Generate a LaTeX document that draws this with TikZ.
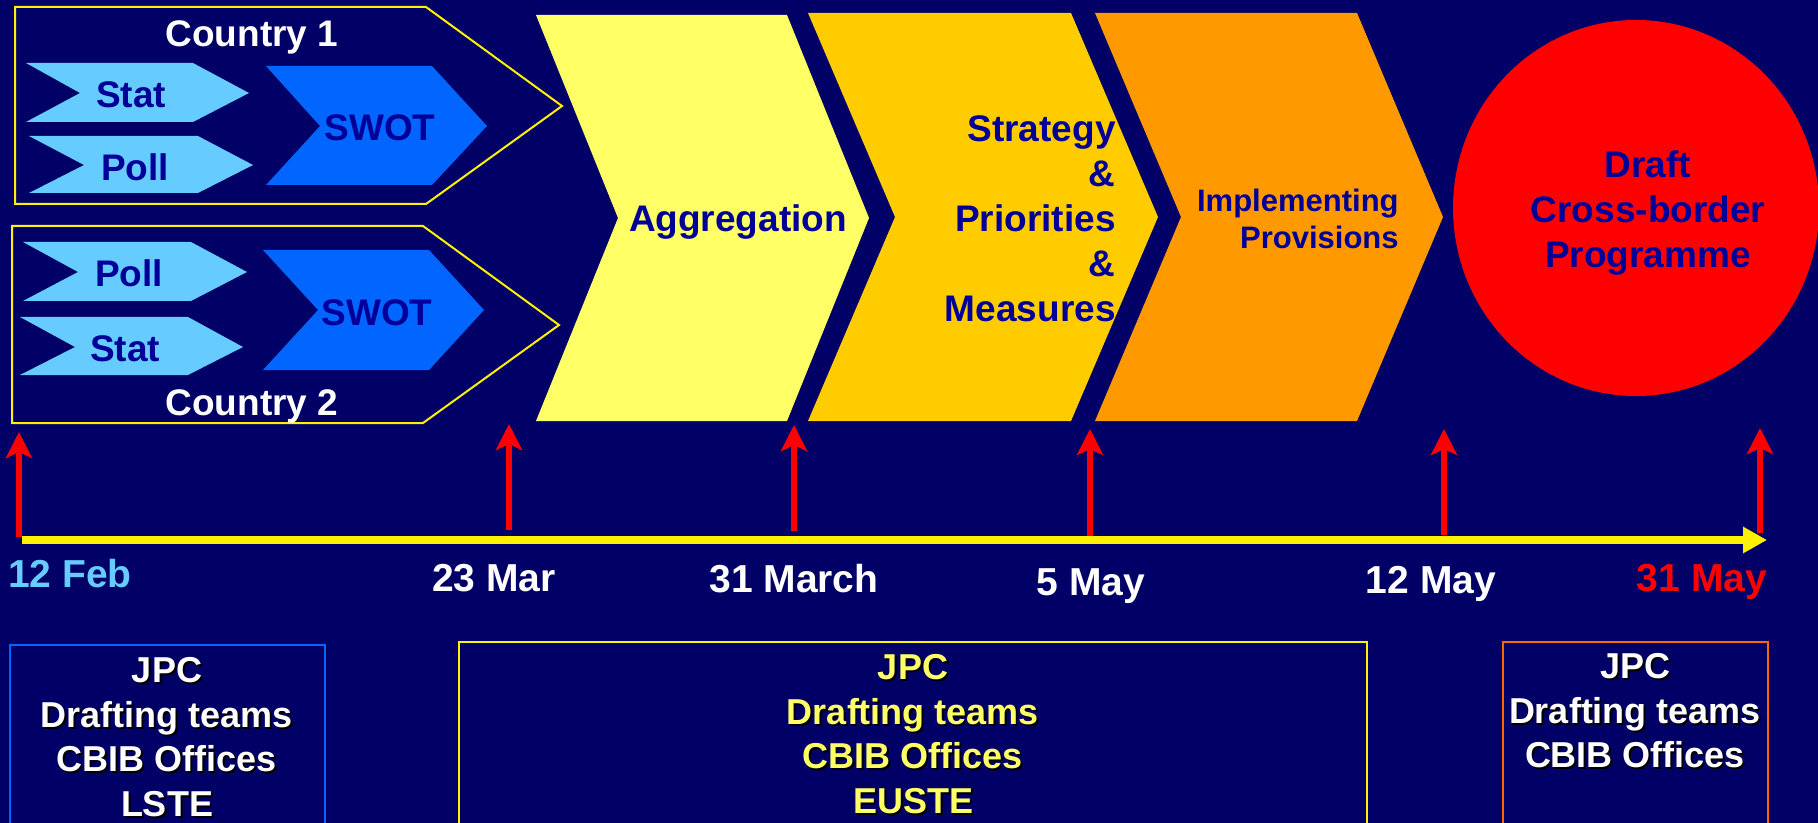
\documentclass[tikz,border=0pt]{standalone}
\usepackage{fontspec}
\setmainfont{Liberation Sans}
\usepackage{xcolor}
\usetikzlibrary{arrows.meta}

\definecolor{bgnavy}{HTML}{000066}
\definecolor{txtblue}{HTML}{000099}
\definecolor{skyblue}{HTML}{66CCFF}
\definecolor{swotblue}{HTML}{0066FF}
\definecolor{paleyellow}{HTML}{FFFF66}
\definecolor{gold}{HTML}{FFCC00}
\definecolor{amber}{HTML}{FF9900}
\definecolor{boxorange}{HTML}{FF6600}

% text with a drop shadow
\newcommand{\shtext}[1]{\rlap{\kern1pt\raisebox{-1pt}{\color{black}#1}}#1}

\begin{document}
\begin{tikzpicture}[x=0.5pt, y=-0.5pt,
  lbl/.style={font=\bfseries\fontsize{18.5}{22.5}\selectfont, text=txtblue, inner sep=0pt, text height=13.2pt, text depth=0pt},
  block/.style={font=\bfseries\fontsize{18.5}{22.5}\selectfont, text=txtblue, inner sep=0pt},
  ctry/.style={lbl, text=white},
  date/.style={font=\bfseries\fontsize{19.5}{22}\selectfont, text=white, inner sep=0pt, text height=14pt, text depth=0pt},
  who/.style={font=\bfseries\fontsize{18}{22.3}\selectfont, align=center, inner sep=0pt, anchor=north},
  milestone/.style={red, line width=2.8pt, -{Stealth[length=13pt, width=13pt, inset=3pt]}}]

% background %
\fill[bgnavy] (0,0) rectangle (1818,823);
\clip (0,0) rectangle (1818,823);

% countries %
\draw[yellow, line width=1pt] (15,7) -- (426,7) -- (562,106) -- (426,204) -- (15,204) -- cycle;
\draw[yellow, line width=1pt] (12,226) -- (423,226) -- (559,325) -- (423,423) -- (12,423) -- cycle;
\node[ctry] (c1) at (252,33) {Country 1};
\node[ctry] (c2) at (252,402) {Country 2};

\fill[skyblue] (26,63) -- (193,63) -- (249,93) -- (193,122) -- (26,122) -- (80,93) -- cycle;
\fill[skyblue] (29,136) -- (198,136) -- (253,165) -- (198,193) -- (29,193) -- (84,165) -- cycle;
\fill[swotblue] (266,66) -- (432,66) -- (487,126) -- (432,185) -- (266,185) -- (320,126) -- cycle;
\fill[skyblue] (23,242) -- (191,242) -- (247,272) -- (191,301) -- (23,301) -- (78,272) -- cycle;
\fill[skyblue] (20,317) -- (188,317) -- (243,347) -- (188,375) -- (20,375) -- (75,347) -- cycle;
\fill[swotblue] (263,250) -- (429,250) -- (484,310) -- (429,370) -- (263,370) -- (318,310) -- cycle;
\node[lbl] (stat1) at (131,94) {Stat};
\node[lbl] (poll1) at (135,167) {Poll};
\node[lbl] (swot1) at (380,127) {SWOT};
\node[lbl] (poll2) at (129,273) {Poll};
\node[lbl] (stat2) at (125,348) {Stat};
\node[lbl] (swot2) at (377,312) {SWOT};

% stages %
\fill[paleyellow] (536,15) -- (787,15) -- (869,218) -- (787,421) -- (536,421) -- (618,218) -- cycle;
\fill[gold] (808,13) -- (1071,13) -- (1158,217) -- (1071,421) -- (808,421) -- (895,217) -- cycle;
\fill[amber] (1095,13) -- (1357,13) -- (1443,217) -- (1357,421) -- (1095,421) -- (1181,217) -- cycle;
\fill[red] (1636,208) ellipse [x radius=91.5pt, y radius=94pt];
\node[lbl] (agg) at (738,218) {Aggregation};
\node[block, align=right, anchor=north east] (strat) at (1116,115) {Strategy\\\&\\Priorities\\\&\\Measures};
\node[block, font=\bfseries\fontsize{15.5}{18.5}\selectfont, align=right, anchor=north east] (impl) at (1399,189) {Implementing\\Provisions};
\node[block, align=center, anchor=north] (draft) at (1648,150) {Draft\\Cross-border\\Programme};

% timeline %
\coordinate (t0) at (22,540);
\coordinate (t1) at (1767,540);
\draw[yellow, line width=4pt, -{Triangle[length=12pt, width=12.5pt]}] (t0) -- (t1);

\coordinate (m1) at (19,537);   \coordinate (m1top) at (19,432);
\coordinate (m2) at (509,530);  \coordinate (m2top) at (509,424);
\coordinate (m3) at (794,531);  \coordinate (m3top) at (794,425);
\coordinate (m4) at (1090,536); \coordinate (m4top) at (1090,429);
\coordinate (m5) at (1444,535); \coordinate (m5top) at (1444,429);
\coordinate (m6) at (1760,533); \coordinate (m6top) at (1760,428);
\draw[milestone] (m1) -- (m1top);
\draw[milestone] (m2) -- (m2top);
\draw[milestone] (m3) -- (m3top);
\draw[milestone] (m4) -- (m4top);
\draw[milestone] (m5) -- (m5top);
\draw[milestone] (m6) -- (m6top);

\node[date, text=skyblue] (feb12) at (70,573) {12 Feb};
\node[date] (mar23) at (494,577) {23 Mar};
\node[date] (mar31) at (794,578) {31 March};
\node[date] (may5) at (1091,581) {5 May};
\node[date] (may12) at (1431,579) {12 May};
\node[date, text=red] (may31) at (1702,577) {31 May};

% teams %
\draw[swotblue, line width=1pt] (10,645) rectangle (325,830);
\draw[yellow, line width=1pt] (459,642) rectangle (1367,830);
\draw[boxorange, line width=1pt] (1503,642) rectangle (1768,830);
\node[who, text=white] (team1) at (167,657) {\shtext{JPC}\\\shtext{Drafting teams}\\\shtext{CBIB Offices}\\\shtext{LSTE}};
\node[who, text=paleyellow] (team2) at (913,654) {\shtext{JPC}\\\shtext{Drafting teams}\\\shtext{CBIB Offices}\\\shtext{EUSTE}};
\node[who, text=white] (team3) at (1635,653) {\shtext{JPC}\\\shtext{Drafting teams}\\\shtext{CBIB Offices}};
\end{tikzpicture}
\end{document}
